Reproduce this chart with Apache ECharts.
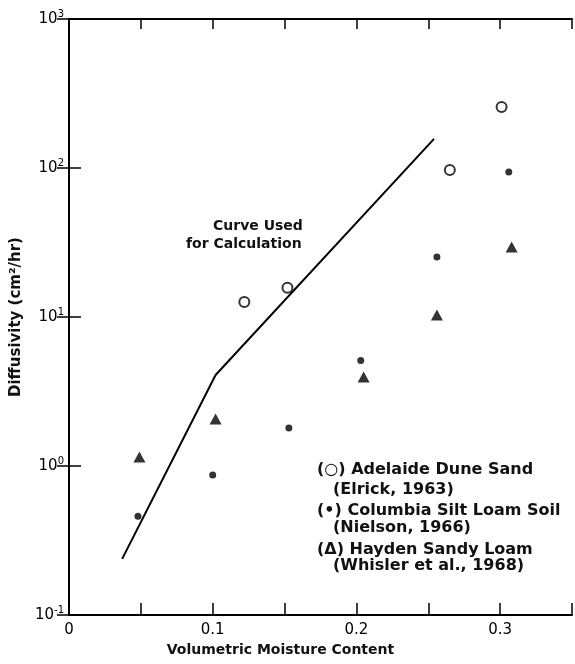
<!DOCTYPE html>
<html>
<head>
<meta charset="utf-8">
<script src="https://cdn.jsdelivr.net/npm/echarts@6/dist/echarts.min.js"></script>
<style>
  html, body { margin: 0; padding: 0; background: #fff; }
  #chart { width: 575px; height: 664px; }
</style>
</head>
<body>
<div id="chart"></div>
<script>
// Adelaide Dune Sand (open circles)
var adelaideX = [0.122, 0.152, 0.265, 0.301];
var adelaideY = [12.6, 15.7, 97, 257];
// Columbia Silt Loam Soil (filled dots)
var columbiaX = [0.048, 0.100, 0.153, 0.203, 0.256, 0.306];
var columbiaY = [0.46, 0.87, 1.8, 5.1, 25.3, 94];
// Hayden Sandy Loam (filled triangles)
var haydenX = [0.049, 0.102, 0.205, 0.256, 0.308];
var haydenY = [1.15, 2.07, 3.95, 10.3, 29.5];
// curve used for calculation
var curveX = [0.037, 0.102, 0.254];
var curveY = [0.238, 4.08, 157];

var xTickLabels = [0, 0.1, 0.2, 0.3];

var FONT = 'DejaVu Sans';

function zip(xs, ys) {
  return xs.map(function (x, i) { return [x, ys[i]]; });
}

function txt(left, top, s, size) {
  return {
    type: 'text', left: left, top: top,
    style: { text: s, font: 'bold ' + size + 'px "DejaVu Sans"', fill: '#111' }
  };
}

var chart = echarts.init(document.getElementById('chart'));

var option = {
  animation: false,
  backgroundColor: '#fff',
  textStyle: { fontFamily: FONT, color: '#000' },
  grid: { left: 69, top: 19, width: 503, height: 596 },
  xAxis: [{
    type: 'value',
    min: 0,
    max: 0.35,
    interval: 0.05,
    name: 'Volumetric Moisture Content',
    nameLocation: 'middle',
    nameGap: 27,
    nameTextStyle: { fontSize: 14, fontWeight: 'bold', color: '#111', fontFamily: FONT, padding: [0, 80, 0, 0] },
    axisLine: { lineStyle: { color: '#000', width: 2 } },
    axisTick: { inside: true, length: 12, lineStyle: { color: '#000', width: 1.5 } },
    splitLine: { show: false },
    axisLabel: {
      fontSize: 15,
      color: '#000',
      margin: 8,
      formatter: function (v) {
        for (var i = 0; i < xTickLabels.length; i++) {
          if (Math.abs(v - xTickLabels[i]) < 1e-6) return xTickLabels[i] === 0 ? '0' : String(xTickLabels[i]);
        }
        return '';
      }
    }
  }, {
    type: 'value',
    position: 'top',
    min: 0,
    max: 0.35,
    interval: 0.05,
    axisLine: { lineStyle: { color: '#000', width: 2 } },
    axisTick: { inside: true, length: 10, lineStyle: { color: '#000', width: 1.5 } },
    axisLabel: { show: false },
    splitLine: { show: false }
  }],
  yAxis: [{
    type: 'log',
    logBase: 10,
    min: 0.1,
    max: 1000,
    name: 'Diffusivity (cm²/hr)',
    nameLocation: 'middle',
    nameGap: 40,
    nameRotate: 90,
    nameTextStyle: { fontSize: 15, fontWeight: 'bold', color: '#111', fontFamily: FONT },
    axisLine: { lineStyle: { color: '#000', width: 2 } },
    axisTick: { inside: true, length: 12, lineStyle: { color: '#000', width: 1.5 } },
    splitLine: { show: false },
    minorTick: { show: false },
    axisLabel: {
      margin: 5,
      color: '#000',
      formatter: function (v) {
        var e = Math.round(Math.log(v) / Math.LN10);
        return '{b|10}{s|' + e + '}';
      },
      rich: {
        b: { fontSize: 15, fontFamily: FONT, color: '#000' },
        s: { fontSize: 10, fontFamily: FONT, color: '#000', padding: [0, 0, 10, 0] }
      }
    }
  }, {
    type: 'log',
    logBase: 10,
    min: 0.1,
    max: 1000,
    position: 'right',
    axisLine: { show: true, lineStyle: { color: '#000', width: 2 } },
    axisTick: { show: true, inside: true, length: 12, lineStyle: { color: '#000', width: 1.5 } },
    axisLabel: { show: false },
    splitLine: { show: false }
  }],
  series: [{
    name: 'Curve Used for Calculation',
    type: 'line',
    data: zip(curveX, curveY),
    showSymbol: false,
    lineStyle: { color: '#000', width: 2 },
    z: 1
  }, {
    name: 'Adelaide Dune Sand',
    type: 'scatter',
    data: zip(adelaideX, adelaideY),
    symbol: 'circle',
    symbolSize: 10,
    itemStyle: { color: '#fff', borderColor: '#000', borderWidth: 2 },
    z: 3
  }, {
    name: 'Columbia Silt Loam Soil',
    type: 'scatter',
    data: zip(columbiaX, columbiaY),
    symbol: 'circle',
    symbolSize: 7,
    itemStyle: { color: '#000' },
    z: 3
  }, {
    name: 'Hayden Sandy Loam',
    type: 'scatter',
    data: zip(haydenX, haydenY),
    symbol: 'triangle',
    symbolSize: [12, 11],
    itemStyle: { color: '#000' },
    z: 3
  }],
  graphic: [
    txt(213, 219, 'Curve Used', 14),
    txt(186, 237, 'for Calculation', 14),
    txt(317, 462, '(○) Adelaide Dune Sand', 16),
    txt(333, 482, '(Elrick, 1963)', 16),
    txt(317, 503, '(•) Columbia Silt Loam Soil', 16),
    txt(333, 520, '(Nielson, 1966)', 16),
    txt(317, 542, '(Δ) Hayden Sandy Loam', 16),
    txt(333, 558, '(Whisler et al., 1968)', 16)
  ]
};

chart.setOption(option);
</script>
</body>
</html>
